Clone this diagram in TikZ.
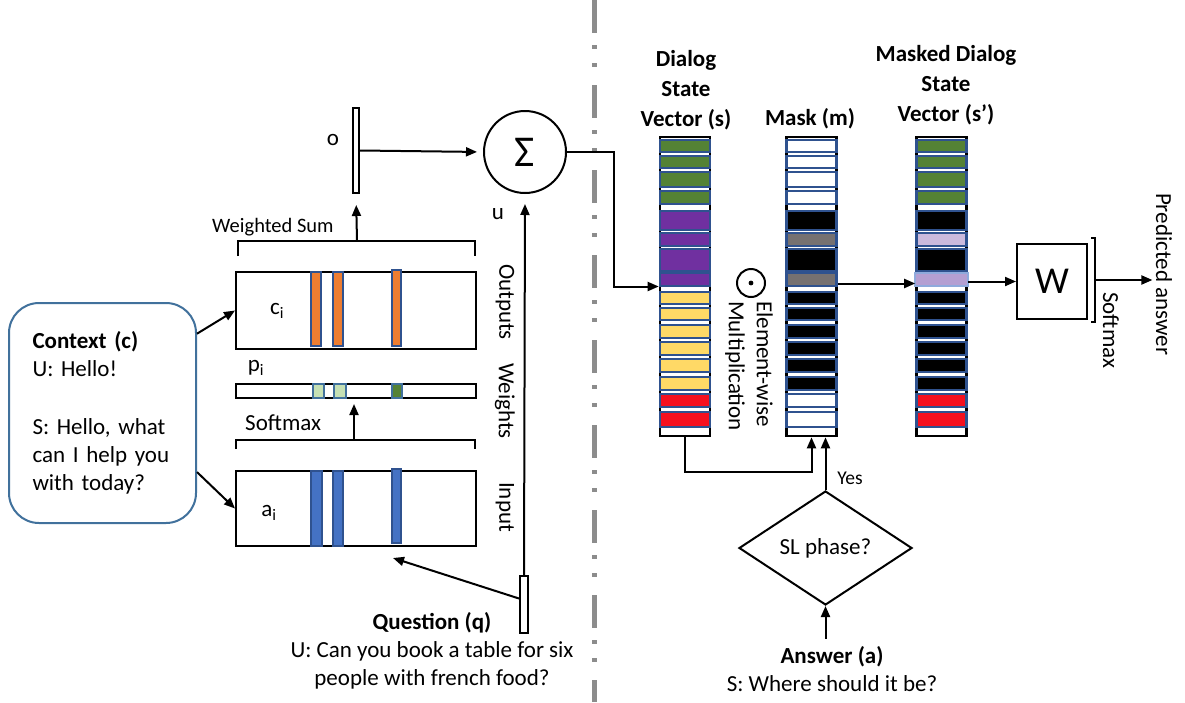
\documentclass[tikz,border=0pt]{standalone}
\usepackage{fontspec}
\setmainfont{Carlito}
\usetikzlibrary{arrows.meta,shapes.geometric,calc}

\definecolor{cellblue}{HTML}{2F528F}
\definecolor{boxblue}{HTML}{41719C}
\definecolor{barblue}{HTML}{4472C4}
\definecolor{barorange}{HTML}{ED7D31}
\definecolor{lgreen}{HTML}{C5E0B4}
\definecolor{dgreen}{HTML}{548235}
\definecolor{vpurple}{HTML}{7030A0}
\definecolor{vyellow}{HTML}{FFD966}
\definecolor{vred}{HTML}{F5101E}
\definecolor{vgray}{HTML}{767171}
\definecolor{vlilac}{HTML}{CBBADD}
\definecolor{vhigh}{HTML}{B49FD2}
\definecolor{hiborder}{HTML}{8FAADC}
\definecolor{divgray}{HTML}{8C8C8C}

% one vector column: #1 = x centre, #2 = list of top/bottom/colour
\newcommand\drawcells[2]{%
  \foreach \t/\b/\c in {#2}{\filldraw[cell,fill=\c] (#1-25,\t) rectangle (#1+25,\b);}}

\begin{document}
\begin{tikzpicture}[x=1pt,y=-1pt,
  every node/.style={font=\fontsize{23}{28}\selectfont},
  arr/.style={line width=2pt,-{Triangle[length=11pt,width=9pt]}},
  plain/.style={line width=2pt},
  membox/.style={draw,rectangle,line width=2pt,minimum width=240pt,inner sep=0pt},
  vcol/.style={draw,rectangle,line width=2.6pt,minimum width=50pt,minimum height=299pt,inner sep=0pt},
  cell/.style={draw=cellblue,line width=2.2pt},
  sidelabel/.style={rotate=-90,inner sep=1pt},
  head/.style={font={\fontsize{23}{30}\selectfont\bfseries},align=center},
  ]
\fill[white] (0,0) rectangle (1185,702);
\useasboundingbox (0,0) rectangle (1185,702);

% divider between the two halves
\draw[divgray,line width=5pt,dash pattern=on 33pt off 12pt on 4pt off 14pt on 4pt off 18pt]
  (594,0) -- (594,702);

% ---------------- memory network ----------------
\node[draw=boxblue,line width=2pt,rounded corners=30pt,minimum width=187pt,
      minimum height=220pt,text width=140pt,align=left,inner xsep=23.5pt] (ctx)
  at (102.5,413) {\textbf{Context (c)}\\U: Hello!\\[30pt]S: Hello, what\\can I help you\\with today?};

\node[membox,minimum height=77pt] (outbox) at (356,310.5) {};
\foreach \xa/\xb/\ya in {311/321/272,333/343/272,392/401/270}
  \filldraw[fill=barorange,draw=cellblue,line width=1.5pt] (\xa,\ya) rectangle (\xb,346);
\node (clab) at (277,311) {c\textsubscript{i}};

\node[membox,minimum height=14pt] (wbar) at (356,391) {};
\filldraw[fill=lgreen,draw=boxblue,line width=1.5pt] (313,384) rectangle (324,398);
\filldraw[fill=lgreen,draw=boxblue,line width=1.5pt] (334,384) rectangle (346,398);
\filldraw[fill=dgreen,draw=boxblue,line width=1.5pt] (392,384) rectangle (402,398);
\node (plab) at (256,368) {p\textsubscript{i}};

\node[membox,minimum height=75pt] (inbox) at (356,508.5) {};
\foreach \xa/\xb/\ya/\yb in {311/322/471/546,333/343/471/546,392/401/469/543}
  \filldraw[fill=barblue,draw=cellblue,line width=1.5pt] (\xa,\ya) rectangle (\xb,\yb);
\node (alab) at (269,513) {a\textsubscript{i}};

% brackets
\draw[plain] (238,256) -- (238,241) -- (475,241) -- (475,256);
\coordinate (wsum) at (357,241);
\draw[plain] (236,449) -- (236,440) -- (475,440) -- (475,449);
\coordinate (smx) at (354,440);
\node[font=\fontsize{20.5}{24}\selectfont,anchor=west,inner sep=0pt] (wslab) at (212,227) {Weighted Sum};
\node[anchor=west,inner sep=0pt] (smlab) at (245,423) {Softmax};

\node[sidelabel] (outl) at (505,302) {Outputs};
\node[sidelabel] (wl) at (505,401) {Weights};
\node[sidelabel] (inl) at (505,507) {Input};

% output vector, sum and question vector
\node[draw,rectangle,line width=2pt,minimum width=6pt,minimum height=85pt,inner sep=0pt] (ov) at (356,150.5) {};
\node (olab) at (333,140) {o};
\node[draw,circle,line width=2pt,minimum size=82pt,inner sep=0pt,font=\fontsize{44}{44}\selectfont] (sum) at (525,152) {Σ};
\node (ulab) at (498,214) {u};
\node[draw,rectangle,line width=2pt,minimum width=8pt,minimum height=57pt,inner sep=0pt] (qv) at (524,604.5) {};
\node[align=center] (qtext) at (432,651) {\textbf{Question (q)}\\U: Can you book a table for six\\people with french food?};
\coordinate (qtip) at (393,558);

\draw[arr] (ctx.40) -- (outbox.west);
\draw[arr] (ctx.-32) -- (inbox.west);
\draw[arr,shorten >=11pt] (wsum) -- (ov.south);
\draw[arr,shorten >=5pt] (smx) -- (wbar.south -| smx);
\draw[arr,shorten >=6pt] (ov.east) -- (sum.west);
\draw[arr,shorten >=10pt] (qv.north) -- (sum.south);
\draw[arr] ($(qv.west)+(0,-6)$) -- (qtip);

% ---------------- dialog state masking ----------------
\node[head] (shead) at (686,90) {Dialog\\State\\Vector (s)};
\node[head] (mhead) at (810,119) {Mask (m)};
\node[head] (sphead) at (946,85) {Masked Dialog\\State\\Vector (s’)};

\node[vcol] (scol) at (685,286.5) {};
\node[vcol] (mcol) at (811.5,286.5) {};
\node[vcol] (spcol) at (941.5,286.5) {};

\drawcells{685}{140/152/dgreen,156/168/dgreen,172/187/dgreen,191/204/dgreen,
  211/230/vpurple,233/246/vpurple,249/271/vpurple,273/286/vpurple,
  292/304/vyellow,308/320/vyellow,325/338/vyellow,342/355/vyellow,359/372/vyellow,377/390/vyellow,
  394/407/vred,412/427/vred}
\drawcells{811.5}{140/152/white,156/168/white,172/187/white,191/204/white,
  211/230/black,233/246/vgray,249/271/black,273/286/vgray,
  292/304/black,308/320/black,325/338/black,342/355/black,359/372/black,377/390/black,
  394/407/white,412/427/white}
\drawcells{941.5}{140/152/dgreen,156/168/dgreen,172/187/dgreen,191/204/dgreen,
  211/230/black,233/246/vlilac,249/271/black,
  292/304/black,308/320/black,325/338/black,342/355/black,359/372/black,377/390/black,
  394/407/vred,412/427/vred}
\filldraw[draw=hiborder,fill=vhigh,line width=2.2pt] (915,273) rectangle (968,286);

\node[draw,circle,line width=2pt,minimum size=28pt,inner sep=0pt] (odot) at (751,283) {};
\fill (odot.center) circle (2.4);
\node[rotate=-90,align=left,anchor=north west,inner sep=1pt] (ewlab) at (774,300) {Element-wise\\Multiplication};

\node[diamond,draw,line width=2pt,aspect=1.5,minimum width=173pt,minimum height=114pt,inner sep=0pt] (dia)
  at (825.5,548) {SL phase?};
\node[font=\fontsize{19.5}{22}\selectfont] (yes) at (850,478) {Yes};
\node[align=center] (ans) at (832,669) {\textbf{Answer (a)}\\S: Where should it be?};

\node[draw,rectangle,line width=2pt,minimum width=70pt,minimum height=75pt,inner sep=0pt,
      font=\fontsize{38}{38}\selectfont] (wbox) at (1052,281.5) {W};
\draw[plain] (1091,238) -- (1095,238) -- (1095,322) -- (1091,322);
\coordinate (wsm) at (1095,280);
\node[rotate=-90,anchor=west,inner sep=0pt] (wsmlab) at (1111,292) {Softmax};
\node[rotate=-90] (pred) at (1164,274) {Predicted answer};

\draw[arr] (sum.east) -- ++(47,0) |- (scol.west);
\draw[arr] (scol.south) -- ++(0,35) -| (mcol.south);
\draw[arr] (dia.north) -- (dia.north |- mcol.south);
\draw[arr,shorten <=4pt] (dia.south |- ans.north) -- (dia.south);
\draw[arr] ([yshift=3pt]mcol.east) -- ([yshift=3pt]spcol.west);
\draw[arr] (spcol.east |- wbox.west) -- (wbox.west);
\draw[arr] (wsm) -- (wsm -| pred.south);
\end{tikzpicture}
\end{document}
